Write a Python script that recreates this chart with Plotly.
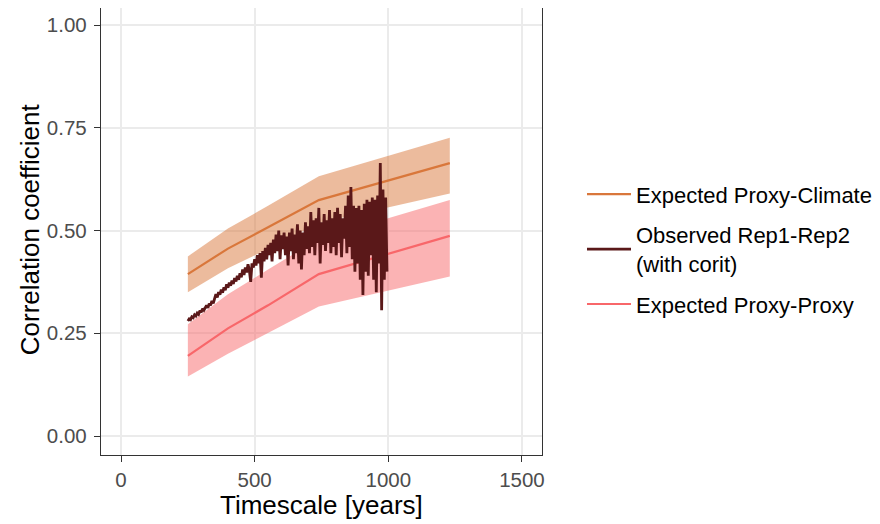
import plotly.graph_objects as go

# ---- data ----
exp_timescale = [250, 400, 550, 740, 1230]
pc_mean = [0.394, 0.456, 0.508, 0.574, 0.664]
pc_upper = [0.437, 0.505, 0.560, 0.632, 0.726]
pc_lower = [0.350, 0.408, 0.455, 0.518, 0.590]
pp_mean = [0.195, 0.262, 0.318, 0.394, 0.487]
pp_upper = [0.272, 0.345, 0.405, 0.480, 0.574]
pp_lower = [0.145, 0.200, 0.250, 0.315, 0.388]

obs_timescale = list(range(250, 1000, 5))
obs_corr = [
    0.280, 0.285, 0.283, 0.290, 0.288, 0.295, 0.292, 0.299, 0.296, 0.305,
    0.301, 0.310, 0.306, 0.313, 0.318, 0.312, 0.322, 0.318, 0.329, 0.323,
    0.338, 0.345, 0.337, 0.350, 0.344, 0.356, 0.349, 0.362, 0.355, 0.369,
    0.361, 0.373, 0.366, 0.378, 0.370, 0.384, 0.376, 0.390, 0.380, 0.396,
    0.386, 0.405, 0.392, 0.410, 0.398, 0.418, 0.404, 0.375, 0.420, 0.410,
    0.430, 0.415, 0.440, 0.420, 0.445, 0.385, 0.450, 0.425, 0.458, 0.430,
    0.465, 0.440, 0.470, 0.425, 0.478, 0.445, 0.490, 0.450, 0.500, 0.430,
    0.488, 0.455, 0.495, 0.440, 0.485, 0.415, 0.495, 0.450, 0.505, 0.430,
    0.490, 0.445, 0.515, 0.420, 0.500, 0.405, 0.495, 0.440, 0.520, 0.455,
    0.510, 0.445, 0.545, 0.460, 0.525, 0.440, 0.530, 0.470, 0.555, 0.420,
    0.520, 0.465, 0.540, 0.450, 0.525, 0.470, 0.550, 0.445, 0.530, 0.460,
    0.545, 0.440, 0.555, 0.470, 0.540, 0.435, 0.530, 0.480, 0.560, 0.445,
    0.585, 0.460, 0.606, 0.430, 0.560, 0.400, 0.555, 0.420, 0.560, 0.380,
    0.550, 0.343, 0.565, 0.400, 0.575, 0.390, 0.570, 0.440, 0.580, 0.380,
    0.575, 0.350, 0.585, 0.420, 0.664, 0.306, 0.600, 0.380, 0.580, 0.400,
]

x_ticks = [0, 500, 1000, 1500]
y_ticks = [0.00, 0.25, 0.50, 0.75, 1.00]
y_tick_labels = ["0.00", "0.25", "0.50", "0.75", "1.00"]

col_pc = "#d9773b"
col_pp = "#f8676a"
col_obs = "#5a1819"
fill_pc = "rgba(217,119,59,0.5)"
fill_pp = "rgba(248,103,106,0.5)"

FONT = "Liberation Sans, Arial, Helvetica, sans-serif"

fig = go.Figure()

# bands
fig.add_trace(go.Scatter(
    x=exp_timescale + exp_timescale[::-1], y=pp_upper + pp_lower[::-1],
    fill="toself", fillcolor=fill_pp, line=dict(width=0), mode="lines",
    showlegend=False, hoverinfo="skip"))
fig.add_trace(go.Scatter(
    x=exp_timescale + exp_timescale[::-1], y=pc_upper + pc_lower[::-1],
    fill="toself", fillcolor=fill_pc, line=dict(width=0), mode="lines",
    showlegend=False, hoverinfo="skip"))

# lines
fig.add_trace(go.Scatter(
    x=exp_timescale, y=pp_mean, mode="lines", name="Expected Proxy-Proxy",
    line=dict(color=col_pp, width=2.2), legendrank=3, legendgroup="c"))
fig.add_trace(go.Scatter(
    x=exp_timescale, y=pc_mean, mode="lines", name="Expected Proxy-Climate",
    line=dict(color=col_pc, width=2.2), legendrank=1, legendgroup="a"))
fig.add_trace(go.Scatter(
    x=obs_timescale, y=obs_corr, mode="lines",
    name="Observed Rep1-Rep2<br>(with corit)",
    line=dict(color=col_obs, width=2.8), legendrank=2, legendgroup="b"))

axis_common = dict(
    showline=True, linecolor="#333333", linewidth=1.4, mirror=True,
    showgrid=True, gridcolor="#ebebeb", gridwidth=1.6,
    ticks="outside", ticklen=6, tickwidth=1.4, tickcolor="#333333",
    tickfont=dict(family=FONT, size=20.5, color="#4d4d4d"),
    zeroline=False, automargin=False,
)

# The page body adds an 8px offset; figure sized so it fits the 880x524 window.
fig.update_layout(
    width=872, height=516,
    margin=dict(l=93, r=338, t=0, b=69),
    paper_bgcolor="white", plot_bgcolor="white",
    xaxis=dict(range=[-75, 1575], tickvals=x_ticks, **axis_common),
    yaxis=dict(range=[-0.0462, 1.0414], tickvals=y_ticks,
               ticktext=y_tick_labels, ticklabelstandoff=3, **axis_common),
    legend=dict(x=1.0907, xanchor="left", y=0.630, yanchor="top",
                font=dict(family=FONT, size=22, color="black"),
                tracegroupgap=9, itemwidth=44, bgcolor="rgba(0,0,0,0)"),
    showlegend=True,
    annotations=[
        dict(text="Timescale [years]", xref="paper", yref="paper",
             x=0.5, y=-0.112, xanchor="center", yanchor="middle",
             showarrow=False,
             font=dict(family=FONT, size=26, color="black")),
        dict(text="Correlation coefficient", xref="paper", yref="paper",
             x=-0.161, y=0.505, xanchor="center", yanchor="middle",
             textangle=-90, showarrow=False,
             font=dict(family=FONT, size=26, color="black")),
    ],
)

fig.write_html("out.html")
